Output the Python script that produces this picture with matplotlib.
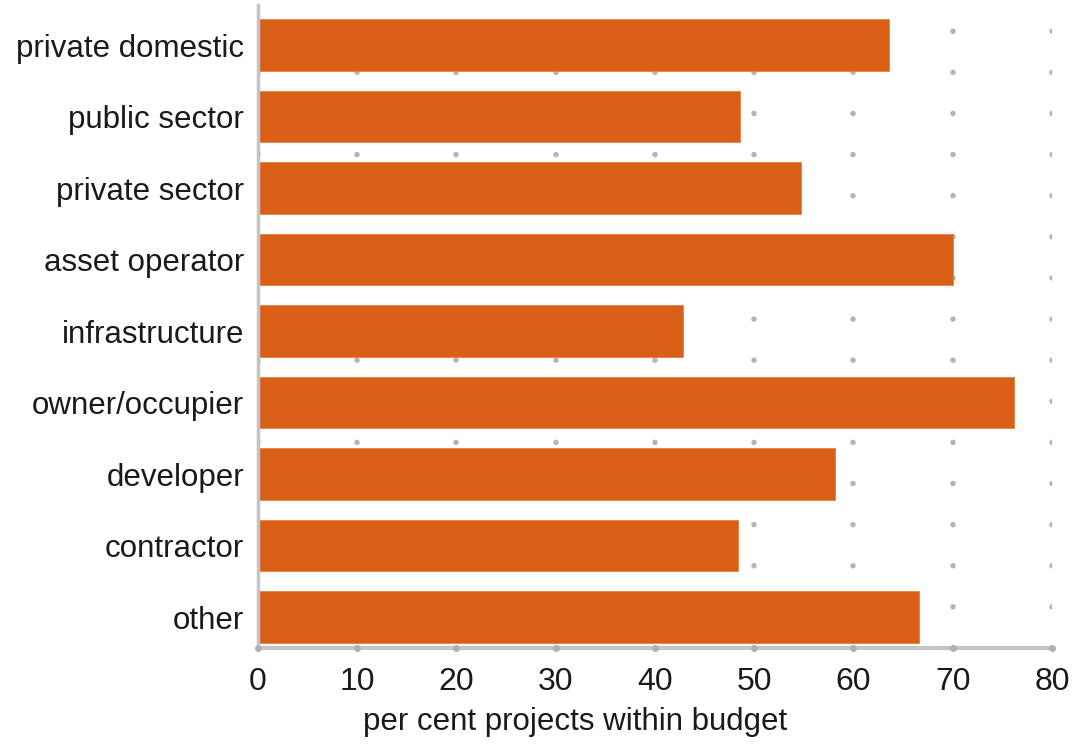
import matplotlib
matplotlib.use('Agg')
import matplotlib.pyplot as plt

categories = ['private domestic', 'public sector', 'private sector', 'asset operator',
              'infrastructure', 'owner/occupier', 'developer', 'contractor', 'other']
pct_within_budget = [63.6, 48.6, 54.7, 70.0, 42.8, 76.2, 58.1, 48.4, 66.6]
x_ticks = [0, 10, 20, 30, 40, 50, 60, 70, 80]

plt.rcParams['font.family'] = ['Liberation Sans', 'DejaVu Sans']

fig = plt.figure(figsize=(10.72, 7.44), dpi=100)
ax = fig.add_axes([258 / 1072, 1 - 648 / 744, (1052 - 258) / 1072, (648 - 5) / 744])

# dotted vertical grid behind bars
for xv in x_ticks:
    ax.axvline(xv, color='#b4b4b4', lw=4.0, linestyle=(0, (0.001, 7.4)),
               dash_capstyle='round', zorder=0)

y = list(range(len(categories)))
ax.barh(y, pct_within_budget, height=0.72, color='#d95f16', edgecolor='#e8823f',
        linewidth=0.6, zorder=2)

ax.set_xlim(0, 80)
ax.set_ylim(len(categories) - 0.57, -0.56)
ax.set_xticks(x_ticks)
ax.set_yticks(y)
ax.set_yticklabels(categories, fontsize=22.5, color='#1a1a1a')
ax.tick_params(axis='x', labelsize=23, colors='#1a1a1a', length=0, pad=14)
ax.tick_params(axis='y', length=0, pad=10)
ax.set_xlabel('per cent projects within budget', fontsize=22.5, color='#1a1a1a')
ax.xaxis.set_label_coords(0.40, -0.092)

for side in ['top', 'right']:
    ax.spines[side].set_visible(False)
ax.spines['bottom'].set_color('#c4c4c8')
ax.spines['bottom'].set_linewidth(3)
ax.spines['left'].set_color('#c4c4c8')
ax.spines['left'].set_linewidth(2.5)
# small tick dots sitting on the x axis
ax.plot(x_ticks, [len(categories) - 0.57] * len(x_ticks), 'o', color='#b0b0b0',
        ms=4, clip_on=False, zorder=3)

fig.savefig('out.png', dpi=100)
